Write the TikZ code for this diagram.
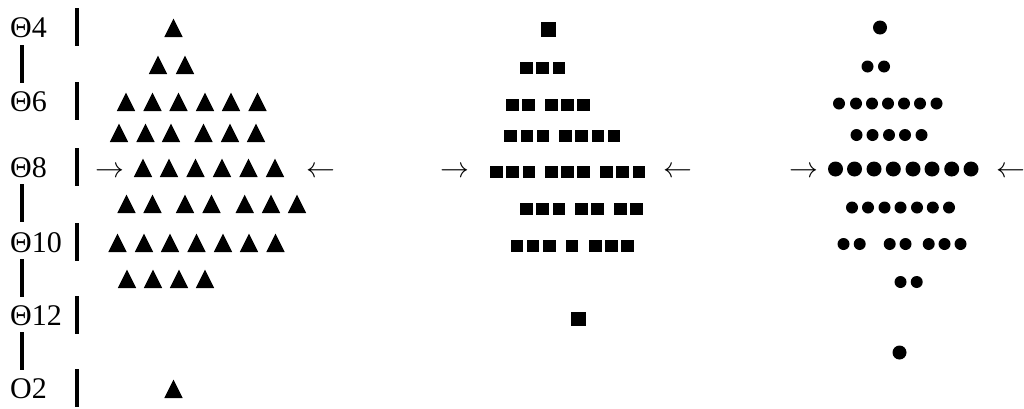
\documentclass[tikz,border=0pt]{standalone}
\usepackage{fontspec}
\setmainfont{Liberation Serif}
\tikzset{
  rowlbl/.style={font=\fontsize{30}{36}\selectfont, inner sep=0pt,
    anchor=base west},
  rowarr/.style={font=\fontsize{24.88}{30}\selectfont, inner sep=0pt,
    anchor=base},
  colrule/.style={line width=3.2pt},
  glyph/.style={fill=black}
}
\newcommand{\inarr}{\scalebox{1.16}{$\rightarrow$}}
\newcommand{\outarr}{\scalebox{1.16}{$\leftarrow$}}
\begin{document}
\begin{tikzpicture}[x=1pt,y=-1pt]
\path[use as bounding box] (0,0) rectangle (1024,408);

% row labels
\node[rowlbl] (th4) at (10,37) {Θ4};
\node[rowlbl] (th6) at (10,111) {Θ6};
\node[rowlbl] (th8) at (10,177) {Θ8};
\node[rowlbl] (th10) at (10,252) {Θ10};
\node[rowlbl] (th12) at (10,325) {Θ12};
\node[rowlbl] (otwo) at (10,398) {O2};

% rules
\foreach \b in {37,111,177,252,325,398}
  \draw[colrule] (77,\b-29) -- (77,\b+9);
\foreach \b in {74,213,288,361}
  \draw[colrule] (22,\b-29) -- (22,\b+9);

% triangles
\foreach \b/\xs in {37/{173.5}, 74/{158,185},
    111/{126,152.5,178.5,205,231,257.5},
    142/{119,145.5,171,203.5,230,256},
    177/{143,169,195.5,222,248.5,275},
    213/{126.5,152.5,185,211.5,244.7,271,297},
    252/{117.5,144,170,196.5,223,249,275.5},
    288/{127,153,179,205}, 398/{173.5}}
  \foreach \x in \xs
    \fill[glyph] (\x-9.2,\b) -- (\x+9.2,\b) -- (\x,\b-18.3) -- cycle;

% squares
\foreach \c/\xs in {68/{526.5,542.5,559},
    105/{512.5,528.5,551.5,567.5,583.5},
    136/{510.5,527,543,565.5,581.5,598,614},
    172/{496.5,512.5,529,551.5,567.5,583.5,606.5,622.5,639},
    209/{526.5,542.5,559,581.5,597.5,620.5,636.5},
    246/{517,533,549.5,572,595.5,611.5,627.5}}
  \foreach \x in \xs
    \fill[glyph] (\x-6.3,\c-6.3) rectangle (\x+6.3,\c+6.3);
\fill[glyph] (541.2,22.2) rectangle (555.8,36.8);
\fill[glyph] (571.2,311.7) rectangle (585.8,326.3);

% dots
\foreach \c/\xs in {66.5/{867.5,884},
    103.5/{839,856,872,888,904,920,936.5},
    135/{856.5,872.5,889,905,921.5},
    207.5/{852,868,884.5,900.5,917,932.8,949},
    244/{843.5,859.7,889.7,905.5,928.7,944.5,960.5},
    282/{900.5,916.7}}
  \foreach \x in \xs
    \fill[glyph] (\x,\c) circle (6);
\foreach \x in {835.5,854.5,874,893.3,913,932,951.7,971}
  \fill[glyph] (\x,169) circle (7.5);
\fill[glyph] (880,27.5) circle (7);
\fill[glyph] (899.5,352.5) circle (7);

% arrows
\node[rowarr] (inA) at (110,177) {\inarr};
\node[rowarr] (outA) at (321,177) {\outarr};
\node[rowarr] (inB) at (455,177) {\inarr};
\node[rowarr] (outB) at (678,177) {\outarr};
\node[rowarr] (inC) at (803.5,177) {\inarr};
\node[rowarr] (outC) at (1010.5,177) {\outarr};
\end{tikzpicture}
\end{document}
